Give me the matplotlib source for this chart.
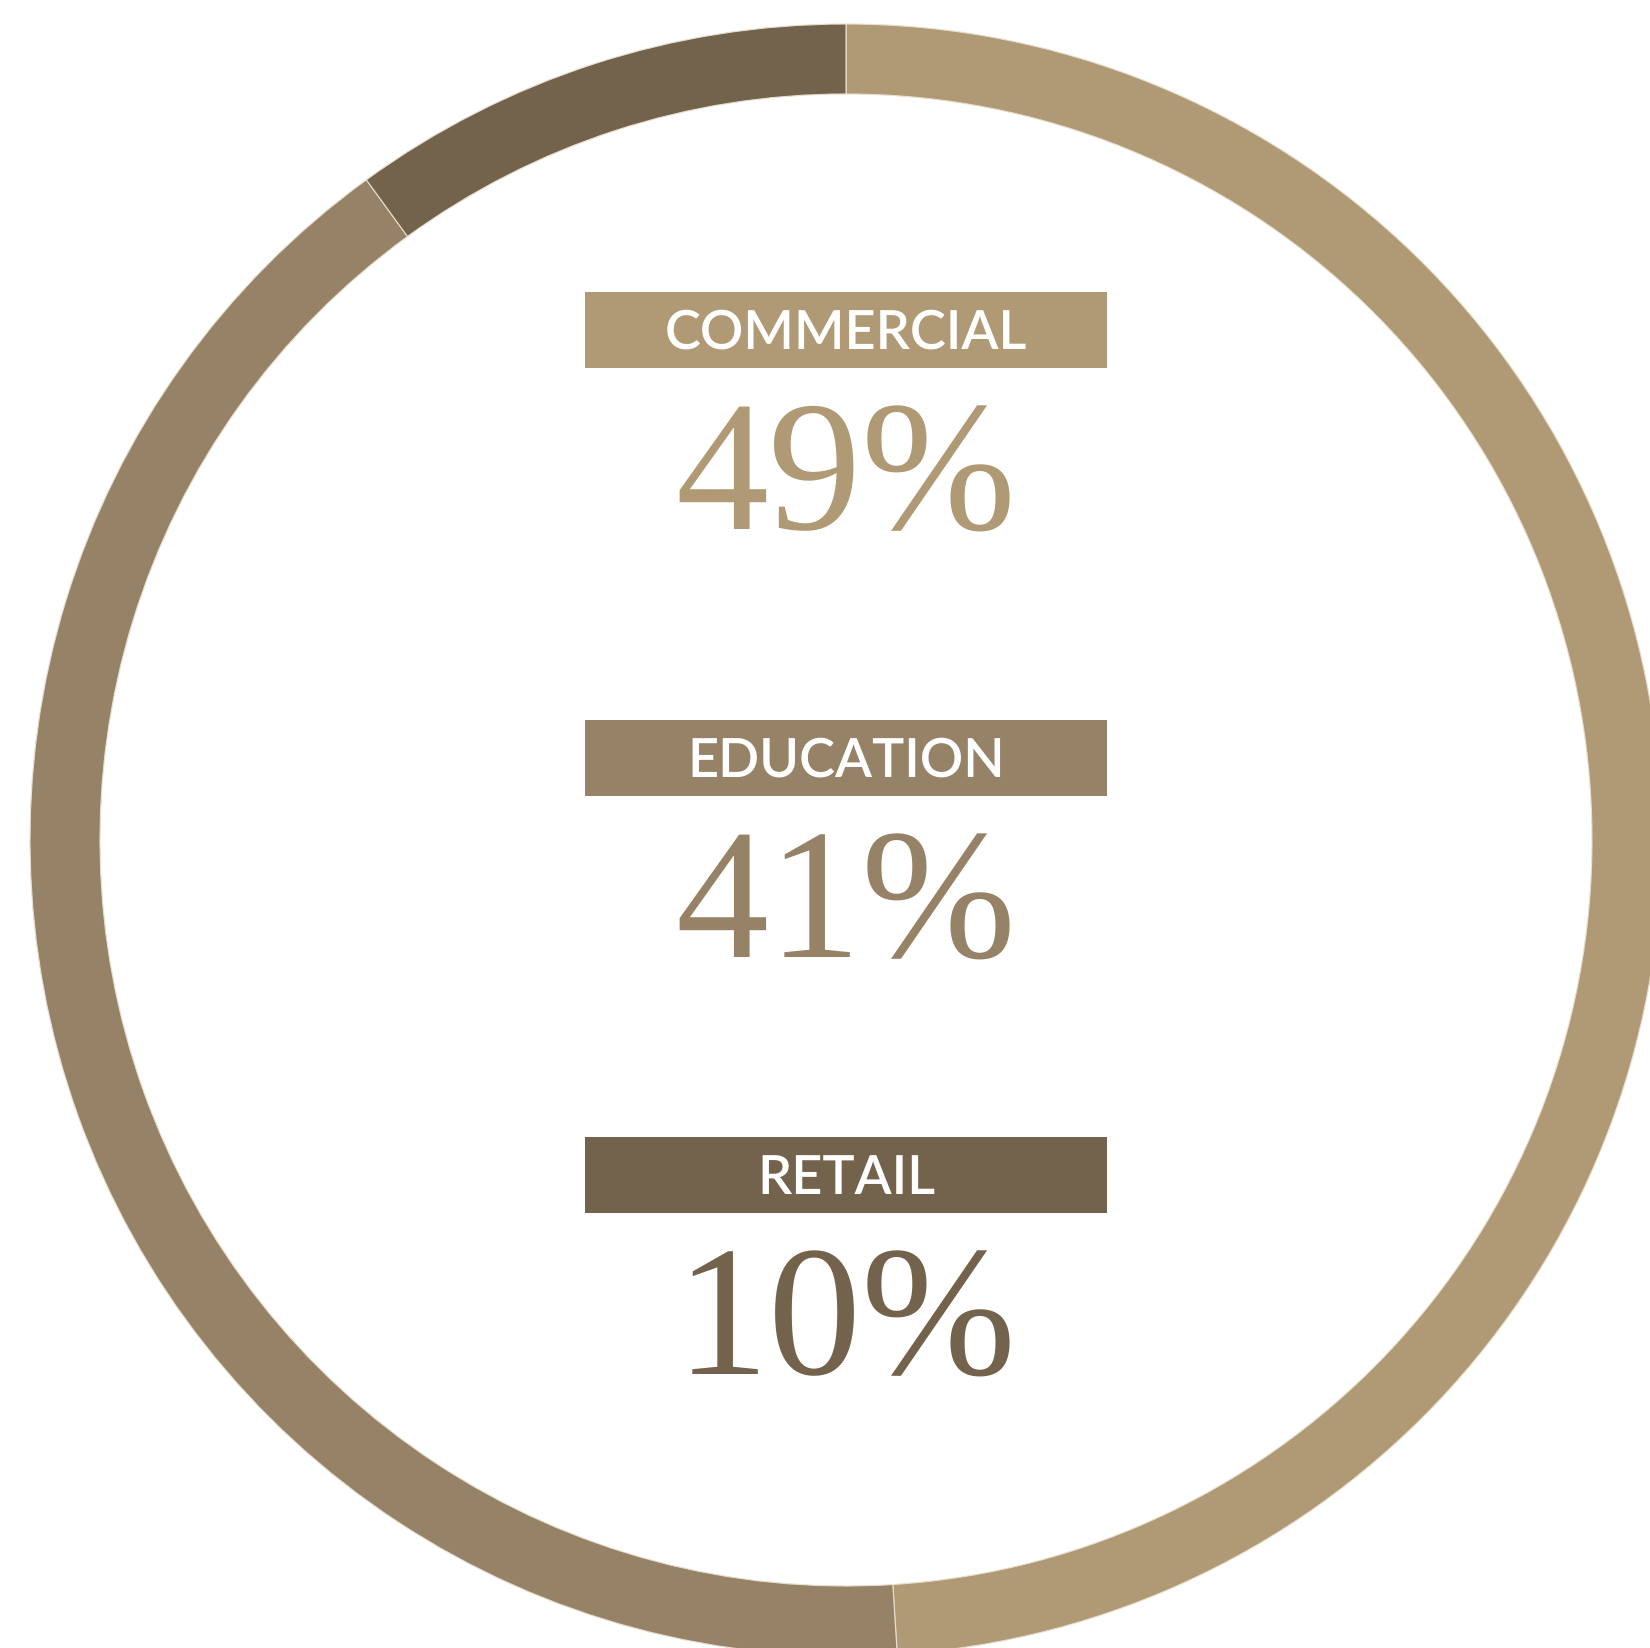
import matplotlib

matplotlib.use("Agg")
import matplotlib.pyplot as plt
from matplotlib.patches import Rectangle

# Even letter spacing in the large labels
plt.rcParams["text.hinting"] = "no_hinting"
plt.rcParams["text.hinting_factor"] = 1

# Sector shares, drawn clockwise from 12 o'clock
categories = ["COMMERCIAL", "EDUCATION", "RETAIL"]
shares = [49, 41, 10]
colors = ["#B09A75", "#968367", "#73634D"]

W, H = 1650, 1648

fig = plt.figure(figsize=(W / 100, H / 100), dpi=100)
ax = fig.add_axes([0, 0, 1, 1])

# Ring (work in pixel units, y measured from the top)
cx, cy = 846, 840
r_outer, ring_w = 816, 70
ax.pie(
    shares,
    colors=colors,
    radius=r_outer,
    center=(cx, H - cy),
    startangle=90,
    counterclock=False,
    wedgeprops=dict(width=ring_w, edgecolor="#E8DFCF", linewidth=0.8),
)

ax.set_xlim(0, W)
ax.set_ylim(0, H)
ax.set_aspect("equal")
ax.axis("off")

# Label boxes with the value underneath
box_left, box_w, box_h = 585, 522, 76
box_tops = [292, 720, 1137]

for name, val, col, top in zip(categories, shares, colors, box_tops):
    ax.add_patch(
        Rectangle((box_left, H - top - box_h), box_w, box_h, color=col, lw=0)
    )
    ax.text(
        cx,
        H - (top + 57),
        name,
        ha="center",
        va="baseline",
        color="white",
        fontsize=39,
        fontfamily="Lato",
        fontweight="semibold",
    )
    ax.text(
        cx,
        H - (top + 238),
        f"{val}%",
        ha="center",
        va="baseline",
        color=col,
        fontsize=134,
        fontfamily="Liberation Serif",
    )

fig.savefig("out.png", dpi=100)
